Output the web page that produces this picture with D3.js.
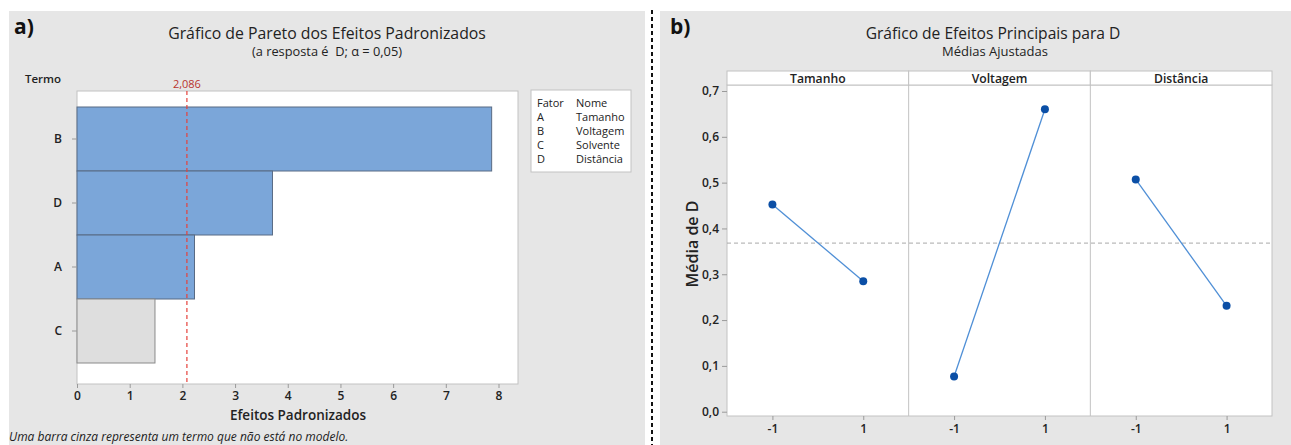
<!DOCTYPE html>
<html>
<head>
<meta charset="utf-8">
<script src="https://cdn.jsdelivr.net/npm/d3@7"></script>
<style>
  html, body { margin: 0; padding: 0; background: #ffffff; }
  svg { display: block; font-family: "Open Sans", "Noto Sans", sans-serif; }
</style>
</head>
<body>
<svg id="chart" width="1291" height="445"></svg>
<script>
// ---------- DATA ----------
const paretoTerms = ["B", "D", "A", "C"];
const paretoEffects = [7.87, 3.71, 2.23, 1.48];
const paretoInModel = [true, true, true, false];
const paretoCritical = 2.086;
const paretoTicks = [0, 1, 2, 3, 4, 5, 6, 7, 8];
const legendFactors = ["A", "B", "C", "D"];
const legendNames = ["Tamanho", "Voltagem", "Solvente", "Distância"];

const factorNames = ["Tamanho", "Voltagem", "Distância"];
const levels = ["-1", "1"];
const meansTamanho = [0.452, 0.285];
const meansVoltagem = [0.077, 0.660];
const meansDistancia = [0.507, 0.231];
const grandMean = 0.368;
const meanTicks = [0, 0.1, 0.2, 0.3, 0.4, 0.5, 0.6, 0.7];

// ---------- SETUP ----------
const svg = d3.select("#chart");
const BG = "#e6e6e6";
const BORDER = "#c2c2c2";
const TXT = "#222222";
const ptBR = d3.formatLocale({decimal: ",", thousands: ".", grouping: [3], currency: ["R$", ""]});
const fmt1 = ptBR.format(".1f");
const fmt3 = ptBR.format(".3f");

// panels
svg.append("rect").attr("x", 9).attr("y", 11).attr("width", 636).attr("height", 434).attr("fill", BG);
svg.append("rect").attr("x", 660).attr("y", 11).attr("width", 631).attr("height", 434).attr("fill", BG);
svg.append("line").attr("x1", 652).attr("x2", 652).attr("y1", 10).attr("y2", 445)
  .attr("stroke", "#111").attr("stroke-width", 2).attr("stroke-dasharray", "4,3");

// ---------- LEFT: PARETO ----------
const L = {x0: 77, x1: 518, y0: 91, y1: 384};
svg.append("text").attr("x", 14).attr("y", 34).attr("font-size", 21).attr("font-weight", 700)
  .attr("fill", "#111").text("a)");
svg.append("text").attr("x", 327).attr("y", 39).attr("text-anchor", "middle").attr("font-size", 15.8)
  .attr("font-weight", 500).attr("fill", TXT).text("Gráfico de Pareto dos Efeitos Padronizados");
svg.append("text").attr("x", 327).attr("y", 56).attr("text-anchor", "middle").attr("font-size", 12.8)
  .attr("font-weight", 500).attr("fill", TXT).text("(a resposta é\u00a0 D; α = 0,05)");

const xP = d3.scaleLinear().domain([0, 8.37]).range([L.x0, L.x1]);
const yP = d3.scaleBand().domain(paretoTerms).range([107, 363]).padding(0);

svg.append("rect").attr("x", L.x0).attr("y", L.y0).attr("width", L.x1 - L.x0).attr("height", L.y1 - L.y0)
  .attr("fill", "#fff").attr("stroke", BORDER);

svg.append("g").selectAll("rect").data(paretoTerms).join("rect")
  .attr("x", xP(0)).attr("y", d => yP(d))
  .attr("width", (d, i) => xP(paretoEffects[i]) - xP(0)).attr("height", yP.bandwidth())
  .attr("fill", (d, i) => paretoInModel[i] ? "#7ba6d9" : "#dedede")
  .attr("stroke", (d, i) => paretoInModel[i] ? "#596b84" : "#8a8a8a").attr("stroke-width", 1);

svg.append("line").attr("x1", xP(paretoCritical)).attr("x2", xP(paretoCritical))
  .attr("y1", L.y0).attr("y2", L.y1).attr("stroke", "#e5413b").attr("stroke-width", 1.2)
  .attr("stroke-dasharray", "4,3");
svg.append("text").attr("x", xP(paretoCritical)).attr("y", 88).attr("text-anchor", "middle")
  .attr("font-size", 11).attr("fill", "#b8342e").text(fmt3(paretoCritical));

// axes
const xAxisP = d3.axisBottom(xP).tickValues(paretoTicks).tickSize(4).tickPadding(3).tickFormat(d3.format("d"));
const gxP = svg.append("g").attr("transform", `translate(0,${L.y1})`).call(xAxisP);
const yAxisP = d3.axisLeft(yP).tickSize(5).tickPadding(10);
const gyP = svg.append("g").attr("transform", `translate(${L.x0},0)`).call(yAxisP);
[gxP, gyP].forEach(g => {
  g.select(".domain").remove();
  g.selectAll(".tick line").attr("stroke", "#9a9a9a");
  g.selectAll(".tick text").attr("fill", TXT).attr("font-size", 12).attr("font-weight", 600)
    .attr("font-family", "'Open Sans', sans-serif");
});

svg.append("text").attr("x", 25).attr("y", 83).attr("font-size", 11.5).attr("font-weight", 600)
  .attr("fill", TXT).text("Termo");
svg.append("text").attr("x", 298).attr("y", 420).attr("text-anchor", "middle").attr("font-size", 13.5)
  .attr("font-weight", 600).attr("fill", TXT).text("Efeitos Padronizados");
svg.append("text").attr("x", 9).attr("y", 441).attr("font-size", 12).attr("font-style", "italic")
  .attr("fill", TXT).text("Uma barra cinza representa um termo que não está no modelo.");

// legend
const lg = svg.append("g");
lg.append("rect").attr("x", 531).attr("y", 90).attr("width", 100).attr("height", 82)
  .attr("fill", "#fff").attr("stroke", BORDER);
const legRows = [["Fator", "Nome"]].concat(legendFactors.map((f, i) => [f, legendNames[i]]));
legRows.forEach((r, i) => {
  lg.append("text").attr("x", 537).attr("y", 107 + i * 14).attr("font-size", 11).attr("fill", TXT).text(r[0]);
  lg.append("text").attr("x", 576).attr("y", 107 + i * 14).attr("font-size", 11).attr("fill", TXT).text(r[1]);
});

// ---------- RIGHT: MAIN EFFECTS ----------
svg.append("text").attr("x", 670).attr("y", 34).attr("font-size", 21).attr("font-weight", 700)
  .attr("fill", "#111").text("b)");
svg.append("text").attr("x", 993).attr("y", 39).attr("text-anchor", "middle").attr("font-size", 15.6)
  .attr("font-weight", 500).attr("fill", TXT).text("Gráfico de Efeitos Principais para D");
svg.append("text").attr("x", 995).attr("y", 56).attr("text-anchor", "middle").attr("font-size", 13)
  .attr("font-weight", 500).attr("fill", TXT).text("Médias Ajustadas");

const R = {x0: 727, x1: 1272, y0: 85, y1: 416, stripTop: 71};
const panelX = d3.scaleBand().domain(factorNames).range([R.x0, R.x1]).padding(0);
const yM = d3.scaleLinear().domain([0, 0.7]).range([411.7, 91]);
const allMeans = [meansTamanho, meansVoltagem, meansDistancia];

// plot background
svg.append("rect").attr("x", R.x0).attr("y", R.y0).attr("width", R.x1 - R.x0).attr("height", R.y1 - R.y0)
  .attr("fill", "#fff").attr("stroke", BORDER);

// grand mean line
svg.append("line").attr("x1", R.x0).attr("x2", R.x1).attr("y1", yM(grandMean)).attr("y2", yM(grandMean))
  .attr("stroke", "#a8a8a8").attr("stroke-width", 1).attr("stroke-dasharray", "4,3");

factorNames.forEach((f, k) => {
  const px = panelX(f);
  const w = panelX.bandwidth();
  // strip
  svg.append("rect").attr("x", px).attr("y", R.stripTop).attr("width", w).attr("height", R.y0 - R.stripTop)
    .attr("fill", "#fff").attr("stroke", BORDER);
  svg.append("text").attr("x", px + w / 2).attr("y", 82.5).attr("text-anchor", "middle")
    .attr("font-size", 12.2).attr("font-weight", 600).attr("fill", TXT).text(f);
  // divider
  if (k > 0) {
    svg.append("line").attr("x1", px).attr("x2", px).attr("y1", R.y0).attr("y2", R.y1).attr("stroke", BORDER);
  }
  const xl = d3.scalePoint().domain(levels).range([px, px + w]).padding(0.5);
  const pts = levels.map((lv, i) => [xl(lv), yM(allMeans[k][i])]);
  svg.append("path").attr("d", d3.line()(pts)).attr("fill", "none").attr("stroke", "#4f8fd6").attr("stroke-width", 1.3);
  svg.append("g").selectAll("circle").data(pts).join("circle")
    .attr("cx", d => d[0]).attr("cy", d => d[1]).attr("r", 4).attr("fill", "#0b4fa6");
  const gx = svg.append("g").attr("transform", `translate(0,${R.y1})`)
    .call(d3.axisBottom(xl).tickSize(4).tickPadding(4));
  gx.select(".domain").remove();
  gx.selectAll(".tick line").attr("stroke", "#9a9a9a");
  gx.selectAll(".tick text").attr("fill", TXT).attr("font-size", 12).attr("font-weight", 600)
    .attr("font-family", "'Open Sans', sans-serif");
});

const gyM = svg.append("g").attr("transform", `translate(${R.x0},0)`)
  .call(d3.axisLeft(yM).tickValues(meanTicks).tickSize(5).tickPadding(3).tickFormat(fmt1));
gyM.select(".domain").remove();
gyM.selectAll(".tick line").attr("stroke", "#9a9a9a");
gyM.selectAll(".tick text").attr("fill", TXT).attr("font-size", 12).attr("font-weight", 600)
  .attr("font-family", "'Open Sans', sans-serif");

svg.append("text").attr("transform", "translate(698,244) rotate(-90)").attr("text-anchor", "middle")
  .attr("font-size", 16).attr("font-weight", 600).attr("fill", TXT).text("Média de D");
</script>
</body>
</html>
